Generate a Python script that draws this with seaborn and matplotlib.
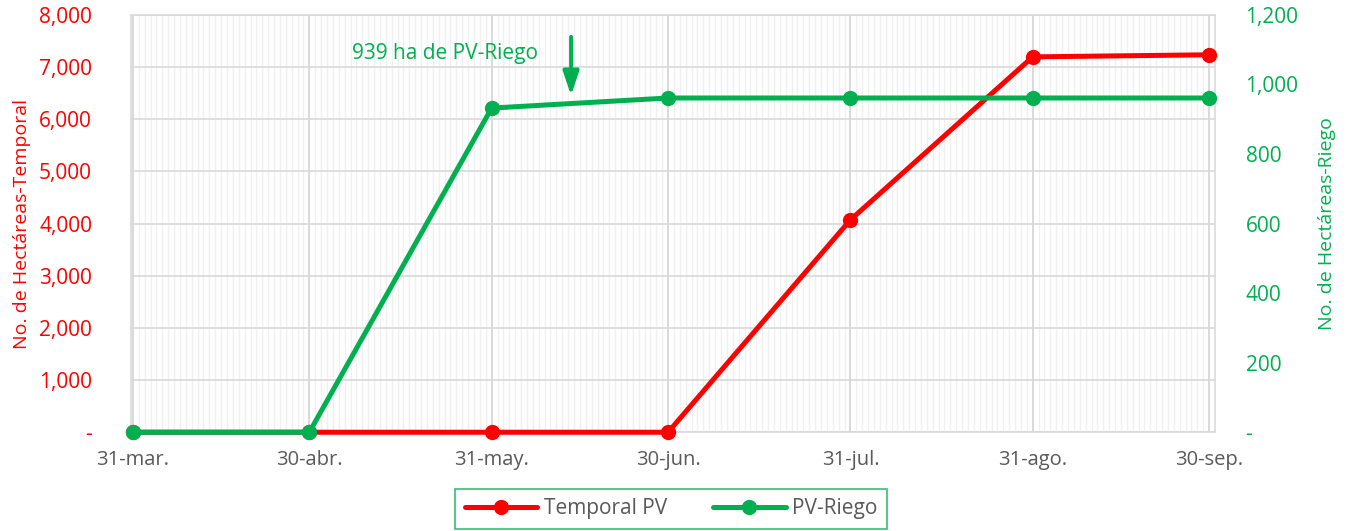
import pandas as pd
import numpy as np
import matplotlib
matplotlib.use("Agg")
import matplotlib.pyplot as plt
import matplotlib.dates as mdates
import matplotlib.ticker as mticker
import seaborn as sns

# Data
fechas = ["2024-03-31", "2024-04-30", "2024-05-31", "2024-06-30",
          "2024-07-31", "2024-08-31", "2024-09-30"]
etiquetas_x = ["31-mar.", "30-abr.", "31-may.", "30-jun.", "31-jul.", "31-ago.", "30-sep."]
temporal_pv = [0, 0, 0, 0, 4070, 7195, 7235]
pv_riego = [0, 0, 932, 961, 961, 961, 961]

ROJO = "#FF0000"
VERDE = "#00B050"
GRIS = "#595959"

sns.set_theme(style="white")
plt.rcParams['font.family'] = ['Open Sans', 'DejaVu Sans']

df = pd.DataFrame({"fecha": pd.to_datetime(fechas),
                   "Temporal PV": temporal_pv,
                   "PV-Riego": pv_riego})

fig = plt.figure(figsize=(13.5, 5.31), dpi=100)
ax = fig.add_axes([0.097, 0.186, 0.803, 0.786])
ax2 = ax.twinx()

sns.lineplot(data=df, x="fecha", y="Temporal PV", ax=ax, color=ROJO, lw=3.6,
             marker="o", markersize=11, markeredgewidth=0, label="Temporal PV",
             legend=False, zorder=3, clip_on=False)
sns.lineplot(data=df, x="fecha", y="PV-Riego", ax=ax2, color=VERDE, lw=3.6,
             marker="o", markersize=11, markeredgewidth=0, label="PV-Riego",
             legend=False, zorder=3, clip_on=False)

# x axis
xmin = pd.Timestamp("2024-03-30 16:00")
xmax = pd.Timestamp("2024-10-01")
ax.set_xlim(xmin, xmax)
ax.set_xticks(df["fecha"])
ax.set_xticklabels(etiquetas_x)
ax.xaxis.set_minor_locator(mdates.DayLocator())
ax.tick_params(axis="x", which="major", colors=GRIS, labelsize=14.5, length=6, width=1.2,
               direction="out", pad=7)
ax.tick_params(axis="x", which="minor", length=0)
for t in ax.get_xticklabels():
    t.set_color(GRIS)

# y axes
def fmt(v, pos):
    return "-" if v == 0 else f"{v:,.0f}"

ax.set_ylim(0, 8000)
ax.yaxis.set_major_locator(mticker.MultipleLocator(1000))
ax.yaxis.set_major_formatter(mticker.FuncFormatter(fmt))
ax.tick_params(axis="y", colors=ROJO, labelsize=15, length=0, pad=28)
ax.set_ylabel("No. de Hectáreas-Temporal", color=ROJO, fontsize=14, labelpad=6)
ax.set_xlabel("")

ax2.set_ylim(0, 1200)
ax2.yaxis.set_major_locator(mticker.MultipleLocator(200))
ax2.yaxis.set_major_formatter(mticker.FuncFormatter(fmt))
ax2.tick_params(axis="y", colors=VERDE, labelsize=15, length=0, pad=22)
ax2.set_ylabel("No. de Hectáreas-Riego", color=VERDE, fontsize=14, labelpad=14)
for t in ax2.get_yticklabels():
    t.set_horizontalalignment("left")

# grid
ax.set_axisbelow(True)
ax.grid(True, axis="y", which="major", color="#D9D9D9", lw=1.2)
ax.grid(True, axis="x", which="major", color="#D9D9D9", lw=1.4)
ax.grid(True, axis="x", which="minor", color="#F0F0F0", lw=1.0)
for s in ax.spines.values():
    s.set_color("#D9D9D9")
    s.set_linewidth(1.2)
    s.set_zorder(0.5)
for s in ax2.spines.values():
    s.set_visible(False)
ax2.grid(False)

# green line on top of red line
ax2.set_zorder(ax.get_zorder() + 1)
ax2.patch.set_visible(False)

# annotation
flecha_x = pd.Timestamp("2024-06-13 12:00")
ax2.annotate("", xy=(flecha_x, 960), xytext=(flecha_x, 1145),
             arrowprops=dict(arrowstyle="-|>,head_width=0.4,head_length=1.2", color=VERDE, lw=2.8))
ax2.text(pd.Timestamp("2024-05-23"), 1090, "939 ha de PV-Riego", color=VERDE, fontsize=15,
         ha="center", va="center")

# legend
h1, l1 = ax.get_legend_handles_labels()
h2, l2 = ax2.get_legend_handles_labels()
leg = fig.legend(h1 + h2, l1 + l2, loc="center", bbox_to_anchor=(0.497, 0.042), ncol=2,
                 frameon=True, fancybox=False, fontsize=15, handlelength=3.5,
                 columnspacing=2.2, handletextpad=0.3, borderpad=0.45)
leg.get_frame().set_edgecolor(VERDE)
leg.get_frame().set_linewidth(1.2)
for t in leg.get_texts():
    t.set_color(GRIS)

fig.savefig("out.png", dpi=100)
